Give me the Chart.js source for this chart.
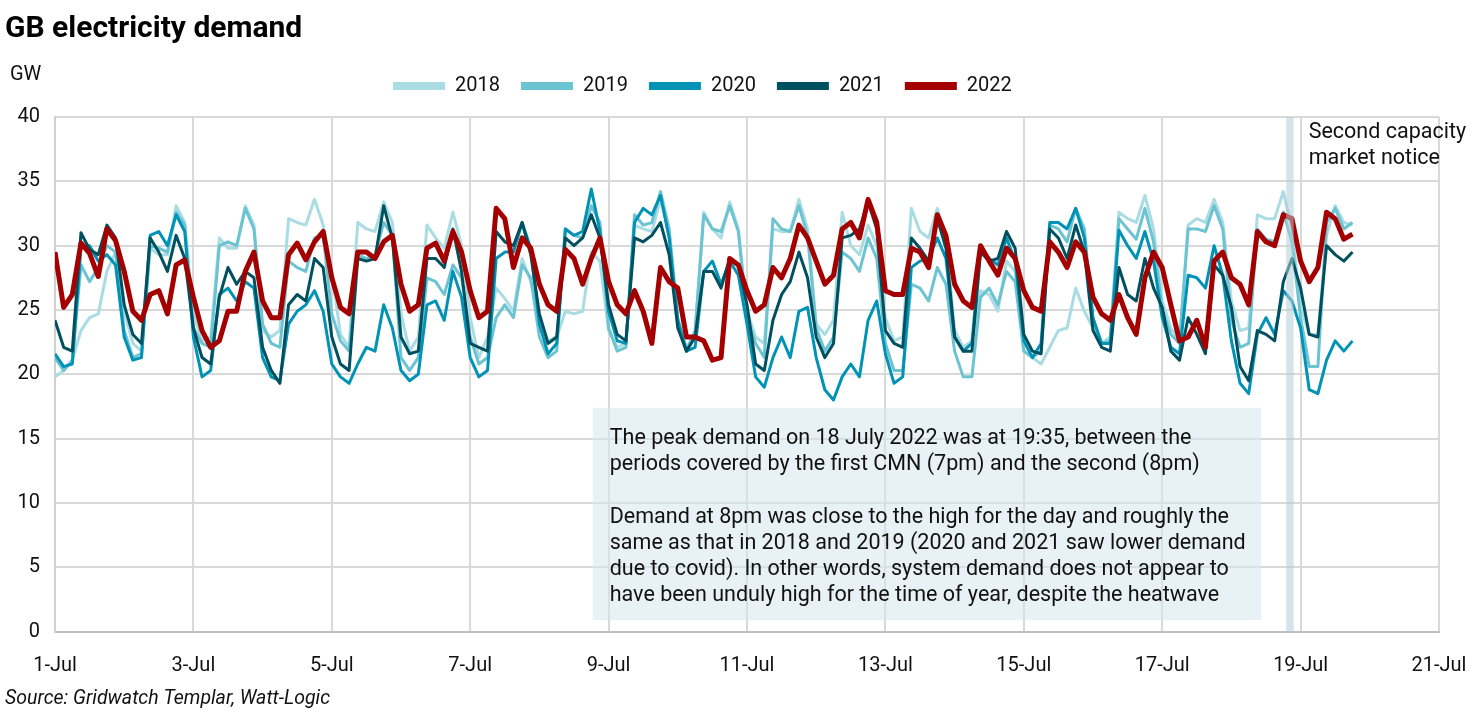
<!DOCTYPE html>
<html>
<head>
<meta charset="utf-8">
<title>GB electricity demand</title>
<script src="https://cdn.jsdelivr.net/npm/chart.js@4.4.1/dist/chart.umd.min.js"></script>
<style>
  html, body { margin: 0; padding: 0; background: #ffffff; }
  #demandChart { display: block; }
</style>
</head>
<body>
<canvas id="demandChart" width="1474" height="714"></canvas>
<script>
// hours since 1 July 00:00, one reading every 3 hours
const hours = Array.from({ length: 151 }, (_, i) => i * 3);

const gw2018 = [
  19.8, 20.3, 21.1, 23.4, 24.4, 24.7, 28.0, 29.5,
  24.9, 22.4, 21.8, 29.8, 29.3, 29.3, 33.1, 31.8,
  24.7, 22.6, 22.9, 30.6, 29.8, 29.8, 33.1, 31.6,
  23.4, 22.9, 23.4, 32.1, 31.8, 31.6, 33.6, 31.6,
  28.0, 23.1, 22.1, 31.8, 31.3, 31.1, 33.4, 31.8,
  24.7, 21.8, 22.9, 31.6, 30.6, 29.8, 32.6, 30.0,
  24.4, 21.3, 22.9, 26.7, 25.9, 24.9, 29.0, 27.2,
  24.4, 22.6, 22.9, 24.9, 24.7, 24.9, 29.5, 28.8,
  23.4, 22.1, 22.4, 31.6, 31.3, 31.1, 33.6, 31.1,
  24.4, 22.1, 23.1, 32.6, 31.3, 30.6, 33.4, 31.3,
  24.9, 22.9, 22.4, 31.3, 31.1, 31.1, 33.6, 31.3,
  23.9, 23.1, 24.2, 32.6, 30.0, 29.3, 31.6, 30.0,
  24.4, 22.6, 22.9, 32.9, 31.1, 30.6, 32.9, 30.8,
  23.4, 22.1, 22.6, 26.5, 26.2, 24.9, 28.8, 28.0,
  21.8, 21.3, 20.8, 22.1, 23.4, 23.6, 26.7, 24.9,
  23.6, 22.4, 22.9, 32.6, 32.1, 31.8, 33.9, 31.3,
  25.7, 23.6, 22.6, 31.6, 32.1, 31.8, 33.6, 31.8,
  25.7, 23.4, 23.6, 32.4, 32.1, 32.1, 34.2, 31.3,
  25.2, 23.1, 23.1, 30.8, 33.1, 31.8, 31.6
];

const gw2019 = [
  21.3, 20.3, 21.1, 28.5, 27.2, 28.3, 30.0, 29.5,
  23.4, 21.3, 21.6, 30.0, 29.8, 29.5, 32.6, 31.6,
  23.6, 22.4, 22.1, 30.0, 30.3, 30.0, 32.9, 31.3,
  23.9, 22.4, 22.1, 28.8, 28.3, 28.0, 30.6, 30.8,
  24.7, 22.6, 21.8, 29.3, 29.0, 29.3, 31.8, 30.8,
  21.3, 20.3, 21.3, 27.5, 27.2, 26.2, 28.5, 27.5,
  22.9, 20.8, 21.3, 24.4, 25.4, 24.4, 28.5, 27.5,
  22.9, 21.3, 21.8, 31.3, 30.8, 30.6, 33.1, 31.8,
  23.6, 21.8, 22.1, 32.4, 31.6, 31.8, 34.2, 31.3,
  24.2, 21.8, 23.4, 32.4, 31.3, 31.1, 33.1, 31.1,
  24.4, 22.4, 21.3, 32.1, 31.3, 31.1, 33.1, 30.8,
  23.6, 21.8, 22.9, 29.5, 29.0, 28.0, 30.6, 29.0,
  22.4, 20.3, 20.3, 27.0, 26.7, 25.7, 28.3, 27.0,
  21.8, 19.8, 19.8, 26.0, 26.7, 25.4, 28.0, 27.2,
  21.8, 21.3, 21.8, 31.6, 31.3, 30.3, 32.9, 31.3,
  24.2, 22.4, 22.6, 32.1, 31.3, 30.5, 32.9, 30.3,
  25.0, 23.1, 22.4, 31.3, 31.3, 31.1, 33.1, 31.3,
  24.2, 22.1, 22.4, 31.3, 30.5, 30.3, 32.6, 30.3,
  24.4, 20.6, 20.6, 31.8, 32.9, 31.3, 31.8
];

const gw2020 = [
  21.6, 20.6, 20.8, 29.8, 30.0, 28.8, 29.3, 28.5,
  22.9, 21.1, 21.3, 30.8, 31.1, 30.0, 32.4, 31.1,
  22.9, 19.8, 20.3, 26.2, 26.7, 25.7, 27.2, 26.7,
  21.3, 19.8, 19.5, 23.9, 24.9, 25.4, 26.5, 24.9,
  20.8, 19.8, 19.3, 20.8, 22.1, 21.8, 25.4, 23.6,
  20.3, 19.5, 20.0, 25.4, 25.7, 24.2, 28.0, 26.0,
  21.3, 19.8, 20.3, 29.0, 29.5, 29.5, 31.8, 29.8,
  23.9, 21.6, 22.4, 31.3, 30.8, 31.1, 34.4, 31.1,
  24.9, 22.6, 22.4, 31.8, 32.9, 32.4, 33.9, 30.6,
  24.2, 21.8, 22.1, 28.0, 28.8, 27.0, 28.8, 27.7,
  23.9, 19.8, 19.0, 21.3, 22.9, 21.3, 24.9, 25.2,
  21.3, 18.8, 18.0, 19.8, 20.8, 19.8, 24.2, 25.7,
  21.6, 19.3, 19.8, 28.3, 28.8, 29.0, 30.6, 29.0,
  22.9, 21.8, 22.4, 29.8, 29.0, 28.5, 30.6, 28.8,
  22.6, 21.3, 22.4, 31.8, 31.8, 31.3, 32.9, 30.6,
  24.4, 22.4, 22.4, 31.2, 30.0, 29.0, 31.1, 28.8,
  24.4, 22.1, 21.6, 27.7, 27.5, 26.7, 30.0, 27.7,
  22.6, 19.3, 18.5, 23.1, 24.4, 23.1, 26.5, 25.7,
  23.6, 18.8, 18.5, 21.1, 22.6, 21.8, 22.6
];

const gw2021 = [
  24.2, 22.1, 21.8, 31.0, 29.7, 29.3, 31.6, 30.6,
  25.4, 23.1, 22.4, 30.6, 29.5, 28.0, 30.8, 29.0,
  23.6, 21.3, 20.8, 26.0, 28.3, 27.0, 28.0, 27.5,
  22.1, 20.3, 19.3, 25.4, 26.2, 25.7, 29.0, 28.3,
  22.9, 20.8, 20.3, 29.0, 28.8, 29.0, 33.1, 30.6,
  22.9, 21.6, 21.8, 29.0, 29.0, 28.3, 31.3, 28.0,
  22.4, 22.1, 21.8, 31.1, 30.3, 30.0, 31.8, 29.3,
  24.7, 22.4, 22.9, 30.6, 30.0, 30.6, 32.4, 30.6,
  25.4, 23.1, 22.6, 30.6, 30.3, 30.8, 31.8, 29.3,
  23.6, 21.8, 22.9, 28.0, 28.0, 26.7, 29.0, 28.5,
  25.4, 20.8, 20.3, 24.2, 26.2, 27.2, 29.5, 27.5,
  22.9, 21.3, 22.4, 30.6, 30.8, 31.3, 33.4, 31.3,
  23.4, 22.4, 22.1, 30.6, 29.8, 28.8, 32.1, 29.8,
  22.9, 21.8, 21.8, 29.5, 28.8, 29.0, 31.1, 29.8,
  23.1, 21.8, 21.6, 31.3, 30.6, 29.0, 31.6, 29.5,
  23.4, 22.1, 21.8, 28.3, 26.2, 25.7, 29.0, 26.7,
  25.2, 21.8, 21.1, 24.4, 23.1, 21.6, 28.5, 27.7,
  25.2, 20.6, 19.5, 23.4, 23.1, 22.6, 27.2, 29.0,
  26.7, 23.1, 22.9, 30.0, 29.3, 28.8, 29.5
];

const gw2022 = [
  29.5, 25.2, 26.2, 30.2, 29.4, 27.6, 31.3, 30.4,
  28.0, 24.9, 24.2, 26.2, 26.5, 24.7, 28.5, 28.9,
  26.0, 23.4, 22.1, 22.6, 24.9, 24.9, 28.0, 29.5,
  25.7, 24.4, 24.4, 29.3, 30.2, 28.9, 30.3, 31.1,
  27.5, 25.2, 24.7, 29.5, 29.5, 29.0, 30.3, 30.8,
  27.0, 24.9, 25.4, 29.8, 30.2, 28.8, 31.1, 29.5,
  26.5, 24.4, 24.9, 32.9, 32.1, 28.3, 30.6, 29.8,
  27.0, 25.4, 24.9, 29.7, 29.0, 27.0, 29.0, 30.6,
  27.2, 25.4, 24.7, 26.5, 24.9, 22.4, 28.3, 27.2,
  26.7, 22.9, 22.9, 22.6, 21.1, 21.3, 29.0, 28.5,
  26.5, 24.9, 25.4, 28.3, 27.5, 29.0, 31.6, 30.6,
  28.8, 27.0, 27.7, 31.3, 31.8, 30.6, 33.6, 31.8,
  26.5, 26.2, 26.2, 29.8, 29.5, 28.3, 32.4, 30.8,
  27.0, 25.7, 25.2, 30.0, 28.8, 27.7, 29.8, 29.0,
  26.5, 25.2, 24.9, 30.3, 29.5, 28.3, 30.3, 29.5,
  26.0, 24.7, 24.2, 26.2, 24.4, 23.1, 27.5, 29.5,
  28.3, 25.4, 22.6, 22.9, 24.2, 22.1, 28.8, 29.5,
  27.5, 27.0, 25.4, 31.1, 30.3, 30.0, 32.4, 32.1,
  28.8, 27.2, 28.3, 32.6, 32.1, 30.5, 30.9
];

const years = ['2018', '2019', '2020', '2021', '2022'];
const series = [gw2018, gw2019, gw2020, gw2021, gw2022];
const colours = ['#a9dce3', '#6cc3d1', '#0093b5', '#00505f', '#a50000'];

// second capacity market notice window, 18 July evening (hours)
const cmnWindow = [427, 429.6];
// annotation box extent in data units (hours, GW)
const noteHours = [186.5, 418.3];
const noteGW = [0.9, 17.4];

const noteParas = [
  ['The peak demand on 18 July 2022 was at 19:35, between the',
   'periods covered by the first CMN (7pm) and the second (8pm)'],
  ['Demand at 8pm was close to the high for the day and roughly the',
   'same as that in 2018 and 2019 (2020 and 2021 saw lower demand',
   'due to covid). In other words, system demand does not appear to',
   'have been unduly high for the time of year, despite the heatwave']
];

Chart.defaults.font.family = 'Roboto, "Noto Sans", sans-serif';
Chart.defaults.color = '#111';

const notesPlugin = {
  id: 'notes',
  afterDatasetsDraw(chart) {
    const { ctx, chartArea, scales: { x, y } } = chart;
    ctx.save();

    // CMN band
    const b0 = x.getPixelForValue(cmnWindow[0]);
    const b1 = x.getPixelForValue(cmnWindow[1]);
    ctx.fillStyle = 'rgba(178, 206, 214, 0.55)';
    ctx.fillRect(b0, chartArea.top, b1 - b0, chartArea.bottom - chartArea.top);

    ctx.font = '21.5px Roboto';
    ctx.fillStyle = '#111';
    ctx.textAlign = 'left';
    ctx.textBaseline = 'middle';
    ctx.fillText('Second capacity', b1 + 15, chartArea.top + 16);
    ctx.fillText('market notice', b1 + 15, chartArea.top + 42);

    // comment box
    const left = x.getPixelForValue(noteHours[0]);
    const right = x.getPixelForValue(noteHours[1]);
    const top = y.getPixelForValue(noteGW[1]);
    const bottom = y.getPixelForValue(noteGW[0]);
    ctx.fillStyle = 'rgba(214, 230, 234, 0.55)';
    ctx.fillRect(left, top, right - left, bottom - top);

    ctx.fillStyle = '#111';
    let ty = top + 31;
    noteParas.forEach(para => {
      para.forEach(line => {
        ctx.fillText(line, left + 17, ty);
        ty += 26;
      });
      ty += 27;
    });
    ctx.restore();
  },
  afterDraw(chart) {
    const { ctx } = chart;
    ctx.save();
    ctx.fillStyle = '#111';
    ctx.font = '20px Roboto';
    ctx.textBaseline = 'middle';
    ctx.textAlign = 'left';
    ctx.fillText('GW', 10, 75);

    // legend drawn by hand so it sits where the original has it
    let lx = 393;
    const ly = 86;
    chart.data.datasets.forEach(ds => {
      ctx.fillStyle = ds.borderColor;
      ctx.fillRect(lx, ly - 4, 52, 8);
      ctx.fillStyle = '#111';
      ctx.fillText(ds.label, lx + 62, ly);
      lx += 62 + ctx.measureText(ds.label).width + 21;
    });
    ctx.restore();
  }
};

new Chart(document.getElementById('demandChart'), {
  type: 'line',
  data: {
    datasets: years.map((yr, i) => ({
      label: yr,
      data: hours.map((h, j) => ({ x: h, y: series[i][j] })),
      borderColor: colours[i],
      backgroundColor: colours[i],
      borderWidth: yr === '2022' ? 5 : 3,
      pointRadius: 0,
      tension: 0,
      borderJoinStyle: 'round',
      order: years.length - i
    }))
  },
  options: {
    responsive: false,
    animation: false,
    layout: { padding: { left: 5, right: 35, top: 0, bottom: 0 } },
    plugins: {
      legend: { display: false },
      tooltip: { enabled: false },
      title: {
        display: true,
        text: 'GB electricity demand',
        align: 'start',
        color: '#000',
        font: { size: 30, weight: 'bold' },
        padding: { top: 11, bottom: 70 }
      },
      subtitle: {
        display: true,
        position: 'bottom',
        text: 'Source: Gridwatch Templar, Watt-Logic',
        align: 'start',
        color: '#111',
        font: { size: 19.5, style: 'italic' },
        padding: { top: 10, bottom: 3 }
      }
    },
    scales: {
      x: {
        type: 'linear',
        min: 0,
        max: 480,
        ticks: {
          stepSize: 48,
          padding: 22,
          font: { size: 20 },
          color: '#111',
          maxRotation: 0,
          callback: v => (1 + v / 24) + '-Jul'
        },
        grid: { color: '#d9d9d9', lineWidth: 2, drawTicks: false },
        border: { color: '#bfbfbf', width: 2 },
        afterFit(scale) {
          scale.height = 46;
          scale.paddingLeft = 0;
          scale.paddingRight = 0;
        }
      },
      y: {
        min: 0,
        max: 40,
        ticks: { stepSize: 5, padding: 15, font: { size: 20 }, color: '#111' },
        grid: { color: '#d9d9d9', lineWidth: 2, drawTicks: false },
        border: { color: '#d0d0d0', width: 2 },
        afterFit(scale) { scale.width = 50; }
      }
    }
  },
  plugins: [notesPlugin]
});
</script>
</body>
</html>
